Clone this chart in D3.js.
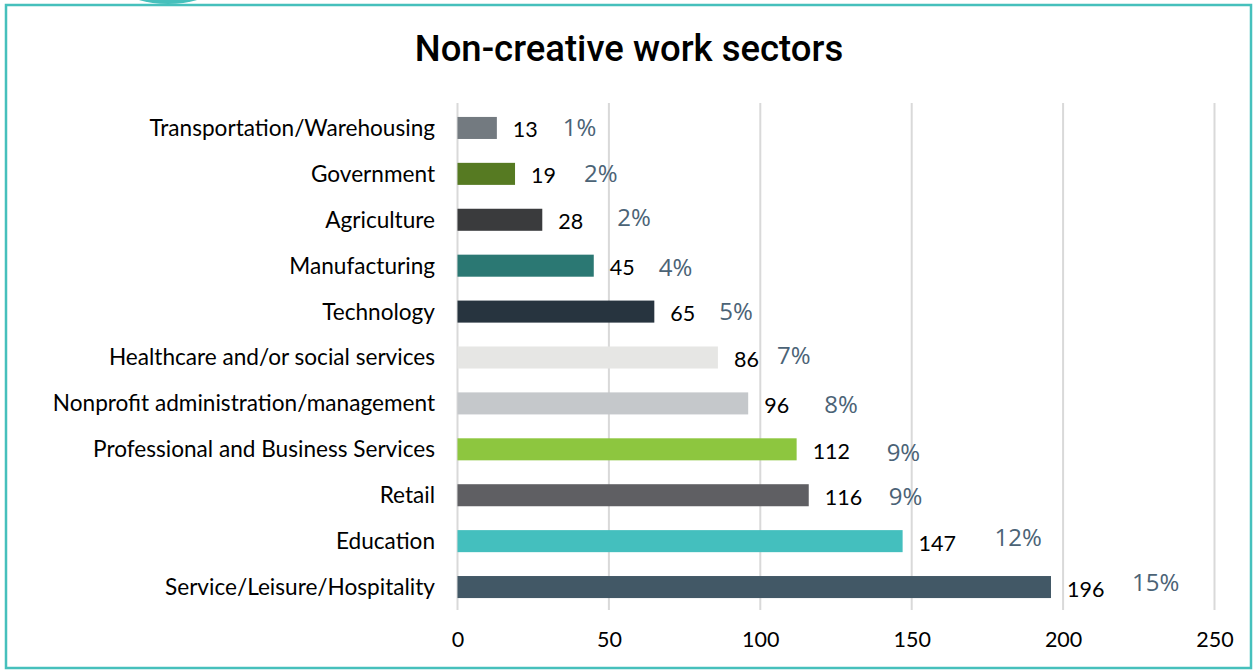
<!DOCTYPE html>
<html>
<head>
<meta charset="utf-8">
<script src="https://cdn.jsdelivr.net/npm/d3@7"></script>
<style>
  html, body { margin: 0; padding: 0; background: #fff; }
  svg { display: block; }
</style>
</head>
<body>
<svg id="chart" width="1255" height="671"></svg>
<script>
// Sectors, listed top to bottom
const sectors = [
  "Transportation/Warehousing",
  "Government",
  "Agriculture",
  "Manufacturing",
  "Technology",
  "Healthcare and/or social services",
  "Nonprofit administration/management",
  "Professional and Business Services",
  "Retail",
  "Education",
  "Service/Leisure/Hospitality"
];
const counts = [13, 19, 28, 45, 65, 86, 96, 112, 116, 147, 196];
const shares = ["1%", "2%", "2%", "4%", "5%", "7%", "8%", "9%", "9%", "12%", "15%"];
const barColors = ["#737a80", "#567a22", "#3a3b3d", "#2b7873", "#27343f", "#e6e6e4",
                   "#c5c8cb", "#8dc63f", "#5f5f63", "#44bfbe", "#425866"];
const xTicks = [0, 50, 100, 150, 200, 250];

// hand-placed offsets of the share labels (px past the bar end, px vertical)
const shareDx = [66, 69, 75, 65, 65, 59, 76, 90, 80, 92, 81];
const shareDy = [0, 0, -2, 2, 0, -2, 1, 3, 1, -4, -4];

const svg = d3.select("#chart");
const teal = "#46c0bc";

// frame
svg.append("ellipse").attr("cx", 168).attr("cy", -9).attr("rx", 40).attr("ry", 13).attr("fill", teal);
svg.append("rect").attr("x", 6).attr("y", 5).attr("width", 1245).attr("height", 663)
  .attr("fill", "none").attr("stroke", teal).attr("stroke-width", 2.5);

// title
svg.append("text").attr("x", 629).attr("y", 61).attr("text-anchor", "middle")
  .style("font-family", "Roboto").style("font-weight", 500).style("font-size", "36.5px")
  .attr("fill", "#000").text("Non-creative work sectors");

const x = d3.scaleLinear().domain([0, 250]).range([457.5, 1214.5]);
const y = d3.scaleBand().domain(sectors).range([105, 610]).paddingInner(0.52).paddingOuter(0.26);

// gridlines
svg.append("g").selectAll("line").data(xTicks).join("line")
  .attr("x1", d => x(d)).attr("x2", d => x(d)).attr("y1", 103).attr("y2", 610)
  .attr("stroke", "#d9d9d9").attr("stroke-width", 2);

// x axis labels
const xAxis = d3.axisBottom(x).tickValues(xTicks).tickSize(0).tickPadding(0);
const gx = svg.append("g").attr("transform", "translate(0,647)").call(xAxis);
gx.select(".domain").remove();
gx.selectAll("text").attr("dy", 0).style("font-family", "Lato").style("font-size", "21.5px").attr("fill", "#000");

// y axis labels
const yAxis = d3.axisLeft(y).tickSize(0).tickPadding(0);
const gy = svg.append("g").attr("transform", "translate(435,0)").call(yAxis);
gy.select(".domain").remove();
gy.selectAll("text").attr("dy", "0.35em").style("font-family", "Lato").style("font-size", "22.6px").attr("fill", "#000");

const rows = sectors.map((s, i) => ({ s, v: counts[i], p: shares[i], c: barColors[i], dx: shareDx[i], dy: shareDy[i] }));

// bars
svg.append("g").selectAll("rect").data(rows).join("rect")
  .attr("x", x(0)).attr("y", d => y(d.s)).attr("width", d => x(d.v) - x(0))
  .attr("height", y.bandwidth()).attr("fill", d => d.c);

// value labels
svg.append("g").selectAll("text").data(rows).join("text")
  .attr("x", d => x(d.v) + 16).attr("y", d => y(d.s) + y.bandwidth() / 2 + 2)
  .attr("dy", "0.35em")
  .style("font-family", "Lato").style("font-size", "21.5px").attr("fill", "#000")
  .text(d => d.v);

// share labels
svg.append("g").selectAll("text").data(rows).join("text")
  .attr("x", d => x(d.v) + d.dx).attr("y", d => y(d.s) + y.bandwidth() / 2 + d.dy)
  .attr("dy", "0.35em")
  .style("font-family", "Open Sans").style("font-size", "24px").attr("fill", "#4b6376")
  .text(d => d.p);
</script>
</body>
</html>
